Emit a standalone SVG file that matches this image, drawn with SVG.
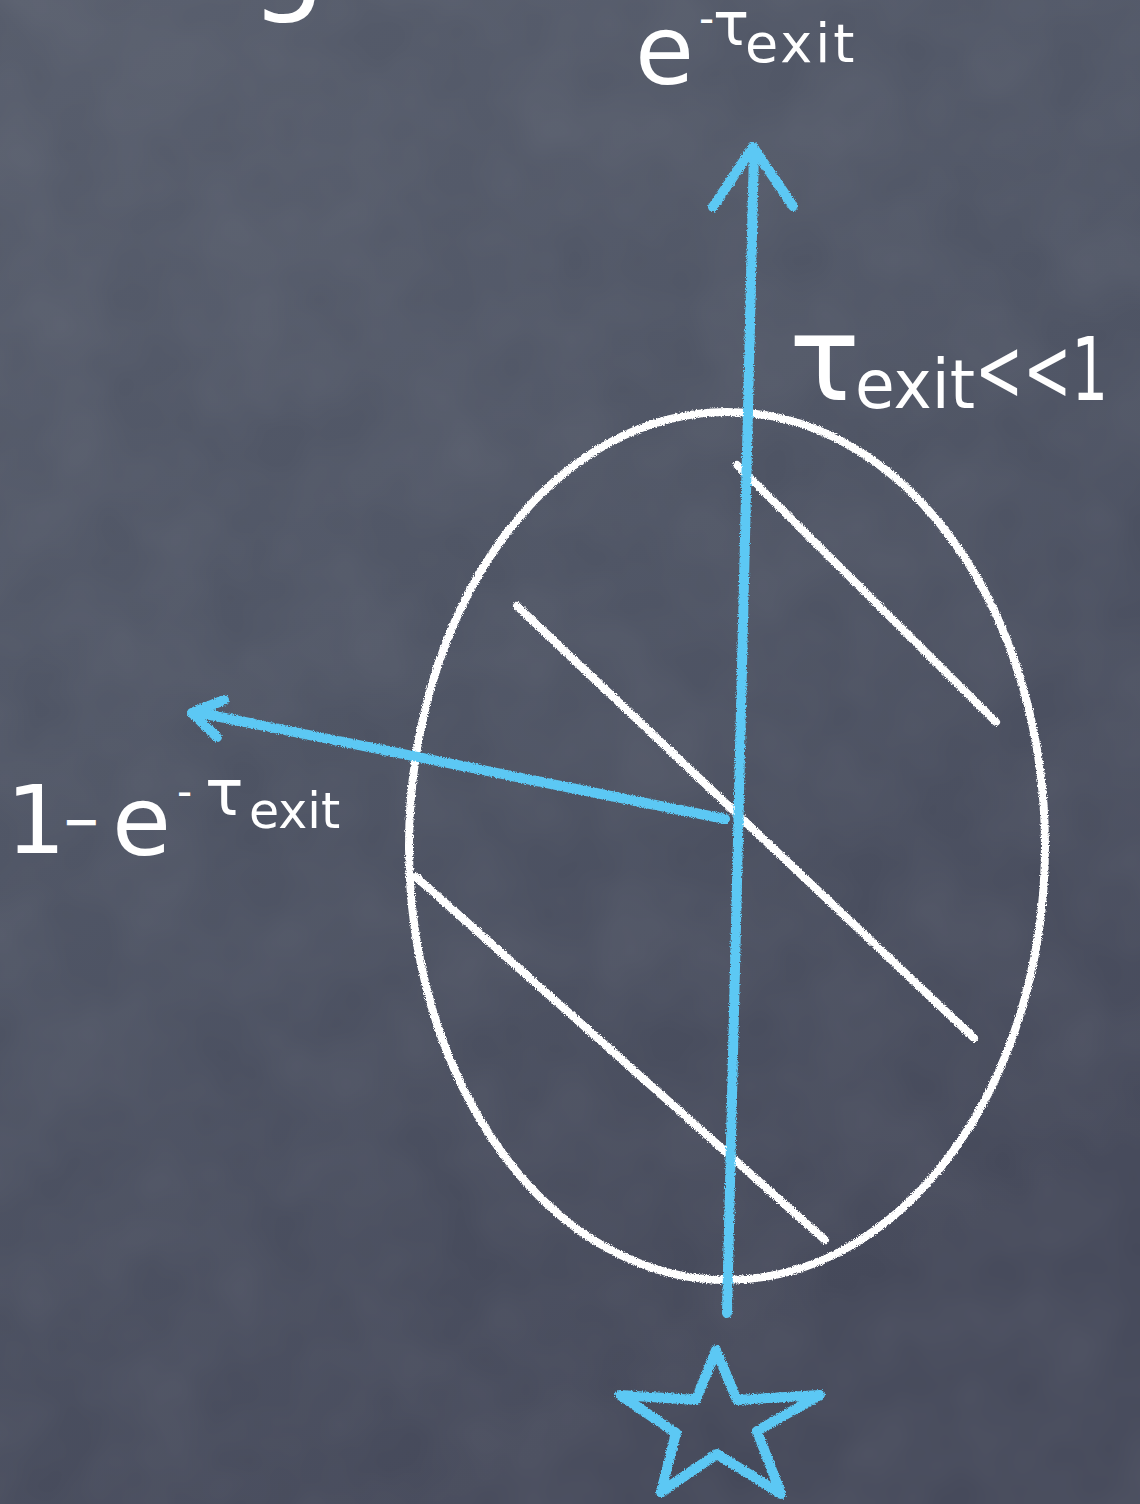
<svg xmlns="http://www.w3.org/2000/svg" width="1140" height="1504" viewBox="0 0 1140 1504">
  <defs>
    <linearGradient id="bg" x1="0" y1="0" x2="0.4" y2="1">
      <stop offset="0" stop-color="#565c6b"/>
      <stop offset="0.5" stop-color="#4e5464"/>
      <stop offset="1" stop-color="#45495a"/>
    </linearGradient>
    <filter id="chalk" x="-5%" y="-5%" width="110%" height="110%">
      <feTurbulence type="fractalNoise" baseFrequency="0.9" numOctaves="2" seed="3" result="n"/>
      <feDisplacementMap in="SourceGraphic" in2="n" scale="4" xChannelSelector="R" yChannelSelector="G"/>
    </filter>
    <filter id="smudge" x="0" y="0" width="100%" height="100%">
      <feTurbulence type="fractalNoise" baseFrequency="0.01" numOctaves="3" seed="7" result="t"/>
      <feColorMatrix in="t" type="matrix" values="0 0 0 0 1  0 0 0 0 1  0 0 0 0 1  0 0 0 0.08 -0.015"/>
    </filter>
  </defs>
  <style>
    .lbl { fill: #ffffff; font-family: "DejaVu Sans", "Noto Sans", sans-serif; }
    .chalkw { fill: none; stroke: #ffffff; stroke-width: 8; stroke-linecap: round; }
    .chalkb { fill: none; stroke: #5cc8f4; stroke-width: 10; stroke-linecap: round; stroke-linejoin: round; }
  </style>

  <rect x="0" y="0" width="1140" height="1504" fill="url(#bg)"/>
  <rect x="0" y="0" width="1140" height="1504" filter="url(#smudge)"/>

  <!-- cut-off title glyph -->
  <g id="title-fragment">
    <text class="lbl" x="250" y="-2" font-size="120">g</text>
  </g>

  <g id="cloud" filter="url(#chalk)">
    <ellipse class="chalkw" cx="727" cy="846" rx="318" ry="434"/>
    <line class="chalkw" x1="737" y1="465" x2="996" y2="722"/>
    <line class="chalkw" x1="517" y1="606" x2="974" y2="1038"/>
    <line class="chalkw" x1="416" y1="877" x2="825" y2="1240"/>
  </g>

  <g id="star" filter="url(#chalk)">
    <polygon class="chalkb" stroke-width="14" points="716,1350 737,1400 820,1395 757,1431 781,1494 717,1454 661,1492 676,1433 620,1395 696,1400"/>
  </g>

  <g id="connectors" filter="url(#chalk)">
    <line class="chalkb" x1="727" y1="1313" x2="754" y2="150"/>
    <polyline class="chalkb" points="713,207 753,147 793,206"/>
    <line class="chalkb" x1="725" y1="819" x2="195" y2="712"/>
    <polyline class="chalkb" stroke-width="9" points="224,700 192,713 217,737"/>
  </g>

  <g id="label-transmitted">
    <text class="lbl" x="635" y="84" font-size="96">e</text>
    <text class="lbl" y="45"><tspan x="699" dy="-12" font-size="42">-</tspan><tspan x="713" dy="12" font-size="60">τ</tspan><tspan x="745" dy="17" font-size="54" letter-spacing="3">exit</tspan></text>
  </g>

  <g id="label-optical-depth">
    <text class="lbl" x="789" y="400" font-size="118">τ</text>
    <text class="lbl" x="855" y="408" font-size="68" textLength="120" lengthAdjust="spacingAndGlyphs">exit</text>
    <text class="lbl" x="975" y="400" font-size="88" textLength="133" lengthAdjust="spacingAndGlyphs">&lt;&lt;1</text>
  </g>

  <g id="label-absorbed">
    <text class="lbl" y="853"><tspan x="6" font-size="94">1</tspan><tspan x="62" dy="-16" font-size="46" font-weight="bold">−</tspan></text>
    <text class="lbl" x="112" y="855" font-size="96">e</text>
    <text class="lbl" y="815"><tspan x="177" dy="-9" font-size="42">-</tspan><tspan x="205" dy="9" font-size="64">τ</tspan><tspan x="249" dy="13" font-size="49">exit</tspan></text>
  </g>
</svg>
